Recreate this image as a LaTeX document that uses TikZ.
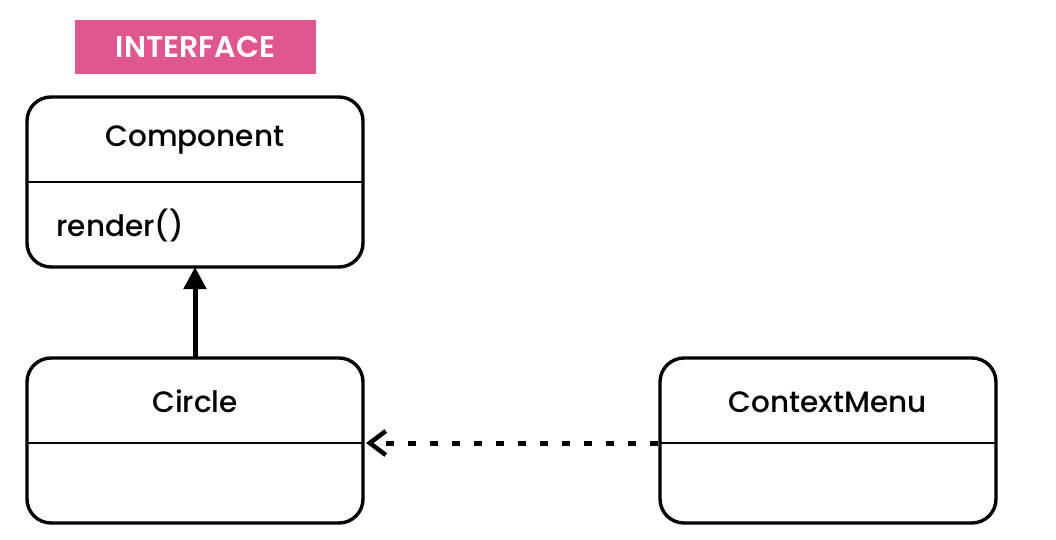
\documentclass[tikz,border=0pt]{standalone}
\usepackage{fontspec}
\setmainfont{Poppins}[UprightFont=*-Medium,BoldFont=*-SemiBold]
\usetikzlibrary{arrows.meta}
\definecolor{tagpink}{HTML}{E0568E}
\begin{document}
\begin{tikzpicture}[x=1pt,y=-1pt,
  classbox/.style={draw=black,line width=3.4pt,rounded corners=24pt},
  divider/.style={draw=black,line width=2.8pt},
  title/.style={font=\fontsize{29.5}{34}\selectfont,anchor=center},
  member/.style={font=\fontsize{29.5}{34}\selectfont,anchor=west},
  tag/.style={fill=tagpink,text=white,font=\bfseries\fontsize{30}{34}\selectfont,inner sep=0pt,minimum width=241pt,minimum height=54pt},
  inherit/.style={line width=5pt,-{Triangle[length=22pt,width=22pt]}},
  depend/.style={line width=5pt,dash pattern=on 8pt off 14pt,-{Straight Barb[length=16pt,width=24pt,line width=4.5pt]}}
]
\useasboundingbox (0,0) rectangle (1056,540);
\fill[white] (0,0) rectangle (1056,540);

% stereotype tag
\node[tag] (tag) at (195.5,47) {INTERFACE};

% Component class
\draw[classbox] (27,97) rectangle (363,267);
\coordinate (compS) at (195,267);
\draw[divider] (27,182) -- (363,182);
\node[title] (comp) at (195,140) {Component};
\node[member] (render) at (53,225) {render()};

% Circle class
\draw[classbox] (27,358) rectangle (363,523);
\coordinate (circN) at (195,358);
\coordinate (circE) at (363,443);
\draw[divider] (27,443) -- (363,443);
\node[title] (circ) at (195,401) {Circle};

% ContextMenu class
\draw[classbox] (660,358) rectangle (996,523);
\coordinate (menuW) at (658,443);
\draw[divider] (660,443) -- (996,443);
\node[title] (menu) at (828,402) {ContextMenu};

% relations
\draw[inherit] (circN) -- (compS);
\draw[depend] (menuW) -- ([xshift=3pt]circE);
\end{tikzpicture}
\end{document}
